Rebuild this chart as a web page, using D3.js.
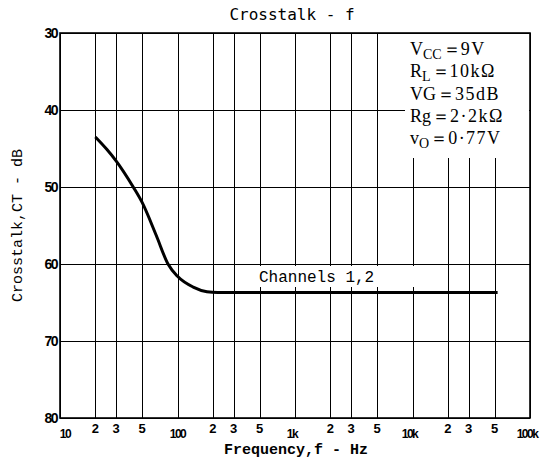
<!DOCTYPE html>
<html>
<head>
<meta charset="utf-8">
<script src="https://cdn.jsdelivr.net/npm/d3@7"></script>
<style>
  body { margin: 0; background: #fff; }
</style>
</head>
<body>
<div id="chart"></div>
<script>
// curve (Hz, dB)
const freq = [20, 25, 30, 42, 50, 66, 83, 100, 136, 178, 220, 1000, 10000, 53000]
const crosstalk = [43.5, 45.1, 46.6, 50, 52, 56.3, 60, 61.6, 63, 63.6, 63.7, 63.7, 63.7, 63.7]

const decadeTicks = [10, 100, 1000, 10000, 100000]
const decadeLabels = ["10", "100", "1k", "10k", "100k"]
const minorTicks = [20, 30, 50, 200, 300, 500, 2000, 3000, 5000, 20000, 30000, 50000]
const minorLabels = ["2", "3", "5", "2", "3", "5", "2", "3", "5", "2", "3", "5"]
const dbTicks = [30, 40, 50, 60, 70, 80]

const conditions = [
  { main: "V", sub: "CC", rest: "9V" },
  { main: "R", sub: "L", rest: "10kΩ" },
  { main: "VG", sub: "", rest: "35dB" },
  { main: "Rg", sub: "", rest: "2·2kΩ" },
  { main: "v", sub: "O", rest: "0·77V" }
]

const width = 547
const height = 468
const margin = { top: 33, right: 17, bottom: 50, left: 60 }

const x = d3.scaleLog()
  .domain([10, 100000])
  .range([margin.left, width - margin.right])

const y = d3.scaleLinear()
  .domain([30, 80])
  .range([margin.top, height - margin.bottom])

const svg = d3.select("#chart").append("svg")
  .attr("width", width)
  .attr("height", height)

// grid
const grid = svg.append("g")
  .attr("stroke", "#000")
  .attr("stroke-width", 1)
  .attr("shape-rendering", "crispEdges")

grid.selectAll(".vx")
  .data(decadeTicks.concat(minorTicks))
  .join("line")
  .attr("x1", d => Math.round(x(d)) + 0.5)
  .attr("x2", d => Math.round(x(d)) + 0.5)
  .attr("y1", y(30))
  .attr("y2", y(80))

grid.selectAll(".hy")
  .data(dbTicks)
  .join("line")
  .attr("x1", x(10))
  .attr("x2", x(100000))
  .attr("y1", d => Math.round(y(d)) + 0.5)
  .attr("y2", d => Math.round(y(d)) + 0.5)

// condition box (white, covers grid)
const boxX = 405
svg.append("rect")
  .attr("x", boxX)
  .attr("y", y(30) + 1)
  .attr("width", x(100000) - boxX - 1)
  .attr("height", 124)
  .attr("fill", "#fff")

const cond = svg.append("g")
  .attr("font-family", "'Liberation Serif', 'DejaVu Serif', serif")
  .attr("font-size", 18)
  .attr("fill", "#000")

conditions.forEach((c, i) => {
  const t = cond.append("text")
    .attr("x", 410)
    .attr("y", 55 + i * 22.3)
  t.append("tspan").text(c.main)
  if (c.sub) {
    t.append("tspan").attr("font-size", 14).attr("dy", 4).text(c.sub)
    t.append("tspan").attr("dy", -4).attr("dx", 1).text("\uFF1D")
  } else {
    t.append("tspan").attr("dx", 1).text("\uFF1D")
  }
  t.append("tspan").attr("letter-spacing", 1.5).text(c.rest)
})

// label box for curve
svg.append("rect")
  .attr("x", 255)
  .attr("y", 266)
  .attr("width", 166)
  .attr("height", 21)
  .attr("fill", "#fff")

svg.append("text")
  .attr("x", 259)
  .attr("y", 282)
  .attr("font-family", "'Liberation Mono', 'Courier New', monospace")
  .attr("font-size", 16)
  .text("Channels 1,2")

// frame
svg.append("rect")
  .attr("x", x(10))
  .attr("y", y(30))
  .attr("width", x(100000) - x(10))
  .attr("height", y(80) - y(30))
  .attr("fill", "none")
  .attr("stroke", "#000")
  .attr("stroke-width", 1.6)

// curve
const line = d3.line()
  .x((d, i) => x(freq[i]))
  .y(d => y(d))
  .curve(d3.curveMonotoneX)

svg.append("path")
  .attr("d", line(crosstalk))
  .attr("fill", "none")
  .attr("stroke", "#000")
  .attr("stroke-width", 3)

// tick labels
const tickFont = "'Liberation Sans', 'DejaVu Sans', sans-serif"

svg.append("g")
  .selectAll("text")
  .data(dbTicks)
  .join("text")
  .attr("x", x(10) - 3)
  .attr("y", d => y(d) + 5)
  .attr("text-anchor", "end")
  .attr("font-family", tickFont)
  .attr("font-weight", "bold")
  .attr("font-size", 14)
  .attr("letter-spacing", -1.5)
  .text(d => d)

svg.append("g")
  .selectAll("text")
  .data(decadeTicks)
  .join("text")
  .attr("x", (d, i) => x(d) + [5, 0, -3, -3, -3][i])
  .attr("y", y(80) + 20)
  .attr("text-anchor", "middle")
  .attr("font-family", tickFont)
  .attr("font-weight", "bold")
  .attr("font-size", 12)
  .attr("letter-spacing", -1.5)
  .text((d, i) => decadeLabels[i])

svg.append("g")
  .selectAll("text")
  .data(minorTicks)
  .join("text")
  .attr("x", d => x(d))
  .attr("y", y(80) + 15)
  .attr("text-anchor", "middle")
  .attr("font-family", tickFont)
  .attr("font-weight", "bold")
  .attr("font-size", 13)
  .text((d, i) => minorLabels[i])

// titles
svg.append("text")
  .attr("x", 292)
  .attr("y", 20)
  .attr("text-anchor", "middle")
  .attr("font-family", "'DejaVu Sans Mono', monospace")
  .attr("font-size", 16)
  .text("Crosstalk - f")

svg.append("text")
  .attr("x", 296)
  .attr("y", 454)
  .attr("text-anchor", "middle")
  .attr("font-family", "'Liberation Mono', 'Courier New', monospace")
  .attr("font-weight", "bold")
  .attr("font-size", 15)
  .text("Frequency,f - Hz")

svg.append("text")
  .attr("transform", `translate(22, ${(y(30) + y(80)) / 2}) rotate(-90)`)
  .attr("text-anchor", "middle")
  .attr("font-family", "'Liberation Mono', 'Courier New', monospace")
  .attr("font-size", 15)
  .text("Crosstalk,CT - dB")
</script>
</body>
</html>
